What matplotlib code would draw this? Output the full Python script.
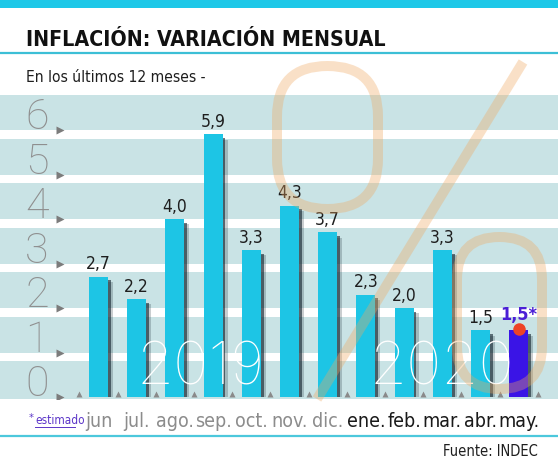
import matplotlib
matplotlib.use("Agg")
import matplotlib.pyplot as plt
from matplotlib import font_manager as fm
from matplotlib.font_manager import FontProperties
from matplotlib.patches import FancyBboxPatch, Rectangle
from matplotlib.lines import Line2D
from matplotlib.transforms import Affine2D

# data
months = ["jun", "jul.", "ago.", "sep.", "oct.", "nov.", "dic.",
          "ene.", "feb.", "mar.", "abr.", "may."]
values = [2.7, 2.2, 4.0, 5.9, 3.3, 4.3, 3.7, 2.3, 2.0, 3.3, 1.5, 1.5]
labels = ["2,7", "2,2", "4,0", "5,9", "3,3", "4,3", "3,7", "2,3", "2,0", "3,3", "1,5", "1,5*"]
year_of = [2019] * 7 + [2020] * 5
yticks = [0, 1, 2, 3, 4, 5, 6]


def pick(cands, want_w, want_condensed):
    best, best_score = None, None
    for f in fm.fontManager.ttflist:
        if f.name not in cands or f.style != "normal":
            continue
        w = f.weight if isinstance(f.weight, int) else fm.weight_dict.get(f.weight, 400)
        st = str(f.stretch)
        cond = ("ondensed" in st) or (st.isdigit() and int(st) < 500) or ("Narrow" in f.name)
        score = (0 if cond == want_condensed else 1, abs(w - want_w), cands.index(f.name))
        if want_w < 400:
            score = (abs(w - want_w), cands.index(f.name))
        if best_score is None or score < best_score:
            best, best_score = f, score
    if best is None:
        return FontProperties(family="DejaVu Sans")
    return FontProperties(fname=best.fname)


narrow_cands = ["Liberation Sans Narrow", "DejaVu Sans"]
f_reg = pick(narrow_cands, 400, True)
f_bold = pick(narrow_cands, 700, True)
f_thin = pick(["Roboto", "Lato", "Inter", "Open Sans", "Noto Sans", "DejaVu Sans"], 100, False)
f_light = pick(["Roboto", "Lato", "Inter", "Open Sans", "Noto Sans", "DejaVu Sans"], 250, False)

W, H = 558, 460
fig = plt.figure(figsize=(W / 100, H / 100), dpi=100)
px = Affine2D().scale(1 / W, -1 / H).translate(0, 1) + fig.transFigure

# main axes: bar centre at 98.5px, 38.2px per bar, 44.5px per unit, 0 at y=398
ax = fig.add_axes([0, (H - 400) / H, 1, 304 / H])
ax.set_xlim(-98.5 / 38.2, (W - 98.5) / 38.2)
ax.set_ylim(-2 / 44.5, 302 / 44.5)
ax.axis("off")

# background stripes
for k in yticks:
    ax.axhspan(k, k + 0.8, color="#c9e3e5", lw=0, zorder=0)
ax.axhspan(-0.05, 0, color="#c9e3e5", lw=0, zorder=0)

# big % sign behind the bars
pc = "#f0a860"
for (x0, y0, w, h) in [(277, 67, 101, 143), (457, 238, 85, 152)]:
    ring = FancyBboxPatch((x0, y0), w, h, boxstyle="round,pad=0,rounding_size=%g" % (w / 2),
                          fill=False, ec=pc, lw=7.2, alpha=0.35, transform=px, zorder=1, clip_on=False)
    fig.add_artist(ring)
fig.add_artist(Line2D([523, 317], [63, 400], color=pc, lw=7.2, alpha=0.35,
                      transform=px, solid_capstyle="butt", zorder=1))

ax.set_zorder(0)
ax.patch.set_visible(False)

# y tick digits and arrows
for k in yticks:
    ax.text((37 - 98.5) / 38.2, k + 0.04, str(k), fontproperties=f_light, fontsize=31,
            color="#8f8f8f", ha="center", va="baseline", zorder=5)
    ax.plot((60 - 98.5) / 38.2, k, marker=">", ms=6, color="#7c7c7c", mec="none", zorder=5)

# small triangles between bars
for i in range(13):
    ax.plot(i - 0.5, 0.07, marker="^", ms=4, color="#8a8a8a", mec="none", zorder=2)

xs = list(range(len(values)))
colors = ["#1dc5e5"] * 11 + ["#3a14e6"]
# soft shadows
ax.bar([x + 0.13 for x in xs], [v - 0.12 for v in values], width=0.5, color="#10202c",
       alpha=0.22, zorder=2)
ax.bar([x + 0.07 for x in xs], [v - 0.08 for v in values], width=0.5, color="#10202c",
       alpha=0.6, zorder=2)
ax.bar(xs, values, width=0.5, color=colors, zorder=3)

for i, (v, lab) in enumerate(zip(values, labels)):
    if i == len(values) - 1:
        ax.text(i, v + 0.17, lab, fontproperties=f_bold, fontsize=13, color="#4b1fd6",
                ha="center", va="bottom", zorder=6)
    else:
        ax.text(i, v + 0.1, lab, fontproperties=f_reg, fontsize=12.5, color="#1e1e1e",
                ha="center", va="bottom", zorder=6)
ax.plot(11, values[11] + 0.02, marker="o", ms=9, color="#ee4326", mec="none", zorder=6)

# years inside the chart
ax.text((201 - 98.5) / 38.2, 0.3, "2019", fontproperties=f_thin, fontsize=43, color="white",
        ha="center", va="baseline", zorder=7)
ax.text((442 - 98.5) / 38.2, 0.3, "2020", fontproperties=f_thin, fontsize=43, color="white",
        ha="center", va="baseline", zorder=7)

# month labels
for i, m in enumerate(months):
    c = "#8c8c8c" if year_of[i] == 2019 else "#1a1a1a"
    fig.text(0, 0, m, fontproperties=f_reg, fontsize=14, color=c, ha="center", va="center",
             transform=Affine2D().translate(98.5 + 38.2 * i, 422) + px)

fig.text(0, 0, "*", fontproperties=f_reg, fontsize=8, color="#5b35c8", ha="left", va="center",
         transform=Affine2D().translate(29, 418) + px)
fig.text(0, 0, "estimado", fontproperties=f_reg, fontsize=8.5, color="#5b35c8", ha="left",
         va="center", transform=Affine2D().translate(35, 421) + px)
fig.add_artist(Line2D([35, 75], [428, 428], color="#5b35c8", lw=0.7, transform=px))

# header and frame lines
fig.add_artist(Rectangle((0, 0), W, 9, color="#1ec8e8", lw=0, transform=px))
fig.add_artist(Line2D([0, W], [54, 54], color="#3cbfd6", lw=1.6, transform=px))
fig.add_artist(Line2D([0, W], [437, 437], color="#4cc8dc", lw=1.6, transform=px))

fig.text(0, 0, "INFLACIÓN: VARIACIÓN MENSUAL", fontproperties=f_bold, fontsize=15.3,
         color="#111111", ha="left", va="center", transform=Affine2D().translate(26, 40) + px)
fig.text(0, 0, "En los últimos 12 meses -", fontproperties=f_reg, fontsize=11.2,
         color="#1e1e1e", ha="left", va="center", transform=Affine2D().translate(26, 78) + px)
fig.text(0, 0, "Fuente: INDEC", fontproperties=f_reg, fontsize=10.5, color="#1e1e1e",
         ha="right", va="center", transform=Affine2D().translate(538, 452) + px)

fig.savefig("out.png", dpi=100)
plt.close(fig)
